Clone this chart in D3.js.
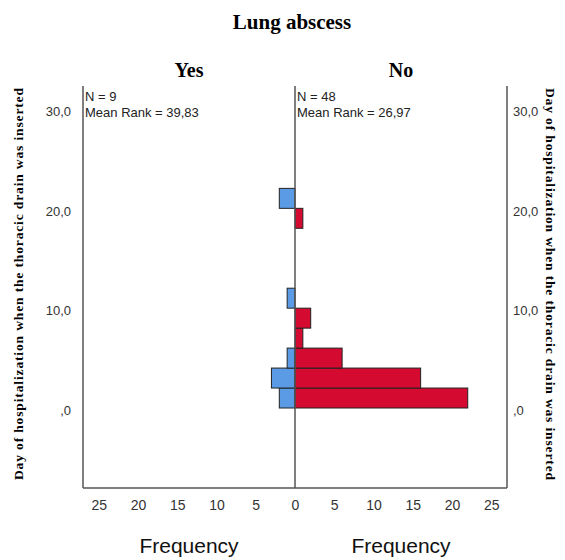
<!DOCTYPE html>
<html>
<head>
<meta charset="utf-8">
<script src="https://cdn.jsdelivr.net/npm/d3@7"></script>
<style>
  body { margin: 0; background: #fff; }
  svg { display: block; }
</style>
</head>
<body>
<svg id="chart" width="565" height="560"></svg>
<script>
// data
const groups = ['Yes', 'No'];
const groupN = [9, 48];
const meanRank = ['39,83', '26,97'];
const binStart = [0.25, 2.25, 4.25, 6.25, 8.25, 10.25, 18.25, 20.25];
const binWidth = 2;
const yesCounts = [2, 3, 1, 0, 0, 1, 0, 2];
const noCounts = [22, 16, 6, 1, 2, 0, 1, 0];
const yTicks = [0, 10, 20, 30];
const yTickLabels = [',0', '10,0', '20,0', '30,0'];
const xTicks = [0, 5, 10, 15, 20, 25];

const svg = d3.select('#chart');

const pLeft = 83, pMid = 295, pRight = 507, pTop = 86, pBottom = 488;

const y = d3.scaleLinear().domain([0, 30]).range([410.5, 111]);
const xL = d3.scaleLinear().domain([0, 27]).range([pMid, pLeft]);
const xR = d3.scaleLinear().domain([0, 27]).range([pMid, pRight]);

//title
svg.append('text')
    .attr('x', 292).attr('y', 29)
    .attr('text-anchor', 'middle')
    .style('font-family', '"Liberation Serif", "Times New Roman", serif')
    .style('font-weight', 'bold')
    .style('font-size', '21px')
    .text('Lung abscess');

//group headers
svg.selectAll('.grp')
    .data(groups)
    .enter()
    .append('text')
    .attr('class', 'grp')
    .attr('x', function(d, i) { return i == 0 ? (pLeft + pMid) / 2 : (pMid + pRight) / 2; })
    .attr('y', 77)
    .attr('text-anchor', 'middle')
    .style('font-family', '"Liberation Serif", "Times New Roman", serif')
    .style('font-weight', 'bold')
    .style('font-size', '20px')
    .text(function(d) { return d; });

//bars
const barStyle = function(sel, color) {
    sel.attr('fill', color).attr('stroke', '#222').attr('stroke-width', 1);
};

svg.append('g').selectAll('rect')
    .data(binStart.map(function(b, i) { return { b: b, n: yesCounts[i] }; }).filter(function(d) { return d.n > 0; }))
    .enter()
    .append('rect')
    .attr('x', function(d) { return xL(d.n); })
    .attr('width', function(d) { return pMid - xL(d.n); })
    .attr('y', function(d) { return y(d.b + binWidth); })
    .attr('height', function(d) { return y(d.b) - y(d.b + binWidth); })
    .call(barStyle, '#5b9be6');

svg.append('g').selectAll('rect')
    .data(binStart.map(function(b, i) { return { b: b, n: noCounts[i] }; }).filter(function(d) { return d.n > 0; }))
    .enter()
    .append('rect')
    .attr('x', pMid)
    .attr('width', function(d) { return xR(d.n) - pMid; })
    .attr('y', function(d) { return y(d.b + binWidth); })
    .attr('height', function(d) { return y(d.b) - y(d.b + binWidth); })
    .call(barStyle, '#d40a30');

//frame: three verticals + bottom
const frame = svg.append('g').attr('stroke', '#555').attr('stroke-width', 1.5);
[pLeft, pMid, pRight].forEach(function(xx) {
    frame.append('line').attr('x1', xx).attr('x2', xx).attr('y1', pTop).attr('y2', pBottom);
});
frame.append('line').attr('x1', pLeft).attr('x2', pRight).attr('y1', pBottom).attr('y2', pBottom);

//y axes
const fmtY = function(d) { return yTickLabels[yTicks.indexOf(d)]; };
const yl = svg.append('g')
    .attr('transform', 'translate(' + (pLeft - 12) + ',0)')
    .call(d3.axisLeft(y).tickValues(yTicks).tickFormat(fmtY).tickSize(0).tickPadding(0));
const yr = svg.append('g')
    .attr('transform', 'translate(' + (pRight + 6) + ',0)')
    .call(d3.axisRight(y).tickValues(yTicks).tickFormat(fmtY).tickSize(0).tickPadding(0));
[yl, yr].forEach(function(g) {
    g.select('.domain').remove();
    g.selectAll('text')
        .style('font-family', '"Liberation Sans", Arial, sans-serif')
        .style('font-size', '13px')
        .attr('fill', '#333');
});

//x axes
const xlAxis = svg.append('g')
    .attr('transform', 'translate(0,' + pBottom + ')')
    .call(d3.axisBottom(xL).tickValues(xTicks.slice(1)).tickSize(0).tickPadding(12));
const xrAxis = svg.append('g')
    .attr('transform', 'translate(0,' + pBottom + ')')
    .call(d3.axisBottom(xR).tickValues(xTicks).tickSize(0).tickPadding(12));
[xlAxis, xrAxis].forEach(function(g) {
    g.select('.domain').remove();
    g.selectAll('text')
        .style('font-family', '"Liberation Sans", Arial, sans-serif')
        .style('font-size', '14px')
        .attr('fill', '#333');
});

//N and mean rank
groups.forEach(function(g, i) {
    const x0 = i == 0 ? pLeft + 2 : pMid + 2;
    const t = svg.append('text')
        .attr('x', x0).attr('y', 101)
        .style('font-family', '"Liberation Sans", Arial, sans-serif')
        .style('font-size', '13px')
        .attr('fill', '#222');
    t.append('tspan').attr('x', x0).text('N = ' + groupN[i]);
    t.append('tspan').attr('x', x0).attr('dy', 16).text('Mean Rank = ' + meanRank[i]);
});

//x titles
[(pLeft + pMid) / 2, (pMid + pRight) / 2].forEach(function(cx) {
    svg.append('text')
        .attr('x', cx).attr('y', 553)
        .attr('text-anchor', 'middle')
        .style('font-family', '"Liberation Sans", Arial, sans-serif')
        .style('font-size', '21px')
        .attr('fill', '#111')
        .text('Frequency');
});

//y titles, rotated both ways
const ylab = 'Day of hospitalization when the thoracic drain was inserted';
const midY = (pTop + pBottom) / 2 - 3;
svg.append('text')
    .attr('transform', 'translate(23,' + midY + ') rotate(-90)')
    .attr('text-anchor', 'middle')
    .attr('textLength', 392)
    .style('font-family', '"Liberation Serif", "Times New Roman", serif')
    .style('font-weight', 'bold')
    .style('font-size', '13.5px')
    .text(ylab);
svg.append('text')
    .attr('transform', 'translate(546,' + midY + ') rotate(90)')
    .attr('text-anchor', 'middle')
    .attr('textLength', 392)
    .style('font-family', '"Liberation Serif", "Times New Roman", serif')
    .style('font-weight', 'bold')
    .style('font-size', '13.5px')
    .text(ylab);
</script>
</body>
</html>
